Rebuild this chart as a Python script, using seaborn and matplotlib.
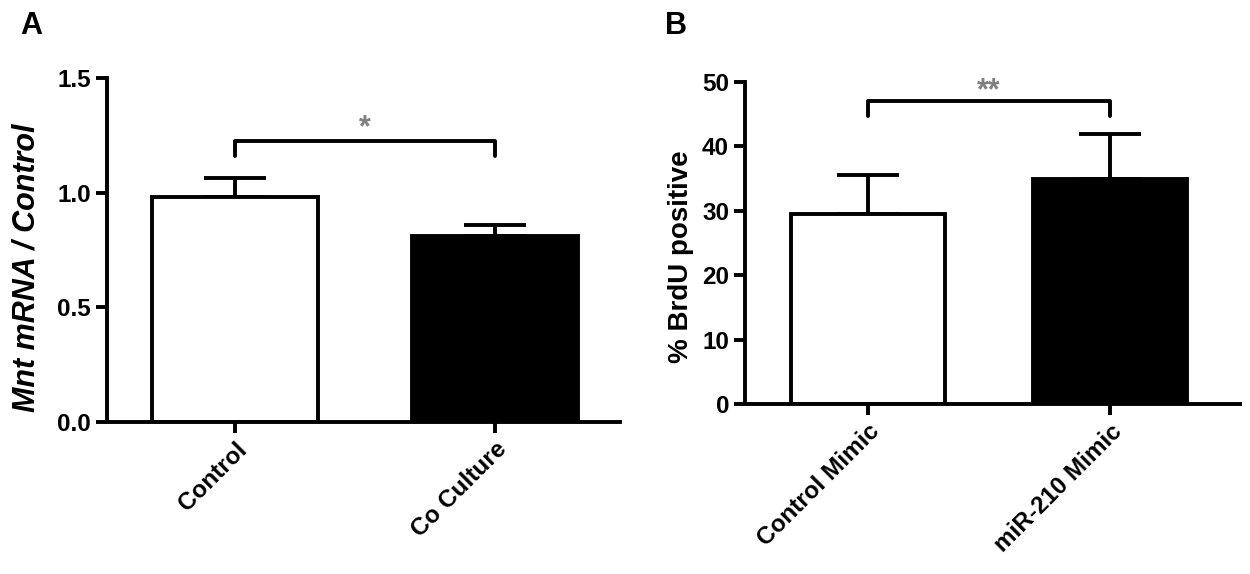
import numpy as np
import pandas as pd
import matplotlib
matplotlib.use("Agg")
import matplotlib.pyplot as plt
import seaborn as sns

# Panel A data
a_groups = ["Control", "Co Culture"]
a_mean = [0.98, 0.81]
a_err = [0.085, 0.05]

# Panel B data
b_groups = ["Control Mimic", "miR-210 Mimic"]
b_mean = [29.5, 35.0]
b_err = [6.0, 7.0]

sns.set_style("ticks", {'axes.edgecolor': 'black', 'text.color': 'black',
                        'xtick.color': 'black', 'ytick.color': 'black',
                        'axes.labelcolor': 'black'})
plt.rcParams['font.family'] = ['Liberation Sans', 'DejaVu Sans']
plt.rcParams['font.weight'] = 'bold'

fig = plt.figure(figsize=(12.5, 5.74), dpi=100)
ax_a = fig.add_axes([0.0856, 0.265, 0.4104, 0.599])
ax_b = fig.add_axes([0.596, 0.296, 0.396, 0.561])

lw = 2.8


def draw_panel(ax, groups, means, errs, xlim, ylim, yticks, ylabel, ystyle,
               ysize, bracket_y, bracket_drop, star, star_y):
    d = pd.DataFrame({'group': groups, 'value': means})
    sns.barplot(data=d, x='group', y='value', hue='group',
                palette=['white', 'black'], edgecolor='black', linewidth=lw,
                width=0.64, legend=False, ax=ax, zorder=2)
    ax.errorbar(range(len(means)), means,
                yerr=[np.zeros(len(errs)), errs], fmt='none',
                ecolor='black', elinewidth=lw, capsize=22, capthick=lw,
                zorder=1)
    ax.set_xlim(*xlim)
    ax.set_ylim(*ylim)
    ax.set_yticks(yticks)
    sns.despine(ax=ax)
    for s in ['left', 'bottom']:
        ax.spines[s].set_linewidth(lw)
    ax.tick_params(axis='both', width=lw, length=8, labelsize=17.5,
                   direction='out', colors='black')
    ax.set_xlabel('')
    ax.set_ylabel(ylabel, fontsize=ysize, fontweight='bold', style=ystyle,
                  color='black')
    for t in ax.get_xticklabels():
        t.set_rotation(45)
        t.set_ha('right')
        t.set_rotation_mode('anchor')
        t.set_fontweight('bold')
    for t in ax.get_yticklabels():
        t.set_fontweight('bold')
    # significance bracket
    ax.plot([0, 0, 1, 1],
            [bracket_y - bracket_drop, bracket_y, bracket_y,
             bracket_y - bracket_drop],
            color='black', lw=lw, clip_on=False)
    ax.text(0.5, star_y, star, ha='center', va='center', fontsize=22,
            color='#808080', fontweight='bold')


draw_panel(ax_a, a_groups, a_mean, a_err, (-0.492, 1.481), (0, 1.5),
           [0.0, 0.5, 1.0, 1.5], 'Mnt mRNA / Control', 'italic', 22,
           1.225, 0.065, '*', 1.28)
ax_a.set_yticklabels(['0.0', '0.5', '1.0', '1.5'], fontweight='bold')
draw_panel(ax_b, b_groups, b_mean, b_err, (-0.508, 1.537), (0, 50),
           [0, 10, 20, 30, 40, 50], '% BrdU positive', 'normal', 20,
           47.0, 2.3, '**', 48.6)

ax_a.yaxis.set_label_coords(-0.128, 0.448)
ax_b.yaxis.set_label_coords(-0.104, 0.457)

fig.text(0.016, 0.955, 'A', fontsize=22, fontweight='bold', va='center')
fig.text(0.532, 0.955, 'B', fontsize=22, fontweight='bold', va='center')

fig.savefig('out.png', dpi=100)
